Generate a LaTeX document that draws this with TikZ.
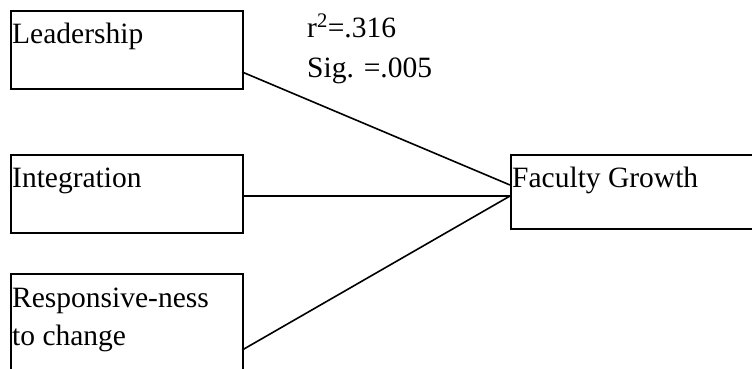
\documentclass[tikz,border=0pt]{standalone}
\usepackage{fontspec}
\usetikzlibrary{calc}
\setmainfont{Liberation Serif}
\begin{document}
\begin{tikzpicture}[x=1pt,y=-1pt,
  box/.style={draw,line width=2.2pt,rectangle,anchor=north west,inner sep=0pt},
  lbl/.style={anchor=base west,inner sep=0pt,font=\fontsize{29.5}{38}\selectfont},
  link/.style={line width=1.6pt}]
\clip (0,0) rectangle (752,368);
\useasboundingbox (0,0) rectangle (752,368);
\node[box,minimum width=232pt,minimum height=78pt] (lead) at (10,10) {};
\node[box,minimum width=232pt,minimum height=78pt] (integ) at (10,154) {};
\node[box,minimum width=232pt,minimum height=120pt] (resp) at (10,273) {};
\node[box,minimum width=250pt,minimum height=74pt] (fac) at (510,154) {};
\node[lbl] (tlead) at (12,43) {Leadership};
\node[lbl] (tinteg) at (12,187) {Integration};
\node[lbl] (tresp1) at (12,307) {Responsive-ness};
\node[lbl] (tresp2) at (12,345) {to change};
\node[lbl] (tfac) at (512,187) {Faculty Growth};
\node[lbl] (tr) at (307,37) {r\textsuperscript{2}=.316};
\node[lbl] (tsig) at (307,77) {Sig. =.005};
\draw[link] ($(lead.north east)+(-2,62)$) -- ($(fac.north west)+(0,31)$);
\draw[link] ($(integ.north east)+(-2,42)$) -- ($(fac.north west)+(0,42)$);
\draw[link] ($(resp.north east)+(-2,77)$) -- ($(fac.north west)+(0,42)$);
\end{tikzpicture}
\end{document}
